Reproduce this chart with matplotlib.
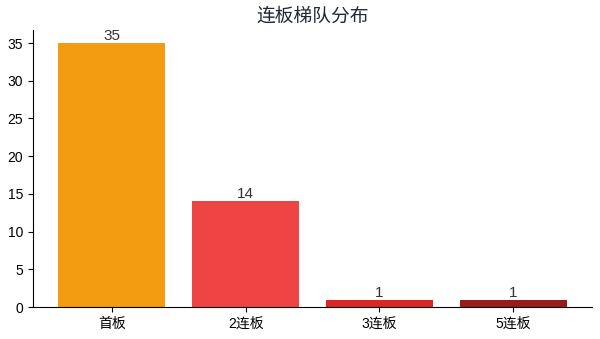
import matplotlib
matplotlib.use("Agg")
import matplotlib.pyplot as plt

plt.rcParams['font.family'] = ['Liberation Sans', 'Noto Sans CJK SC', 'DejaVu Sans']

categories = ["首板", "2连板", "3连板", "5连板"]
counts = [35, 14, 1, 1]
colors = ["#f39c12", "#ef4444", "#dc2626", "#991b1b"]

fig, ax = plt.subplots(figsize=(6, 3.39), dpi=100)
bars = ax.bar(categories, counts, color=colors, width=0.8)

# count labels on top of each bar
for rect, v in zip(bars, counts):
    ax.text(rect.get_x() + rect.get_width() / 2, rect.get_height(), str(v),
            ha="center", va="bottom", fontsize=11, color="#333333")

ax.set_title("连板梯队分布", fontsize=13.5, color="#1f2937")
ax.spines["top"].set_visible(False)
ax.spines["right"].set_visible(False)
ax.tick_params(labelsize=10)

fig.subplots_adjust(left=0.055, right=0.987, top=0.912, bottom=0.094)
fig.savefig("out.png", dpi=100)
